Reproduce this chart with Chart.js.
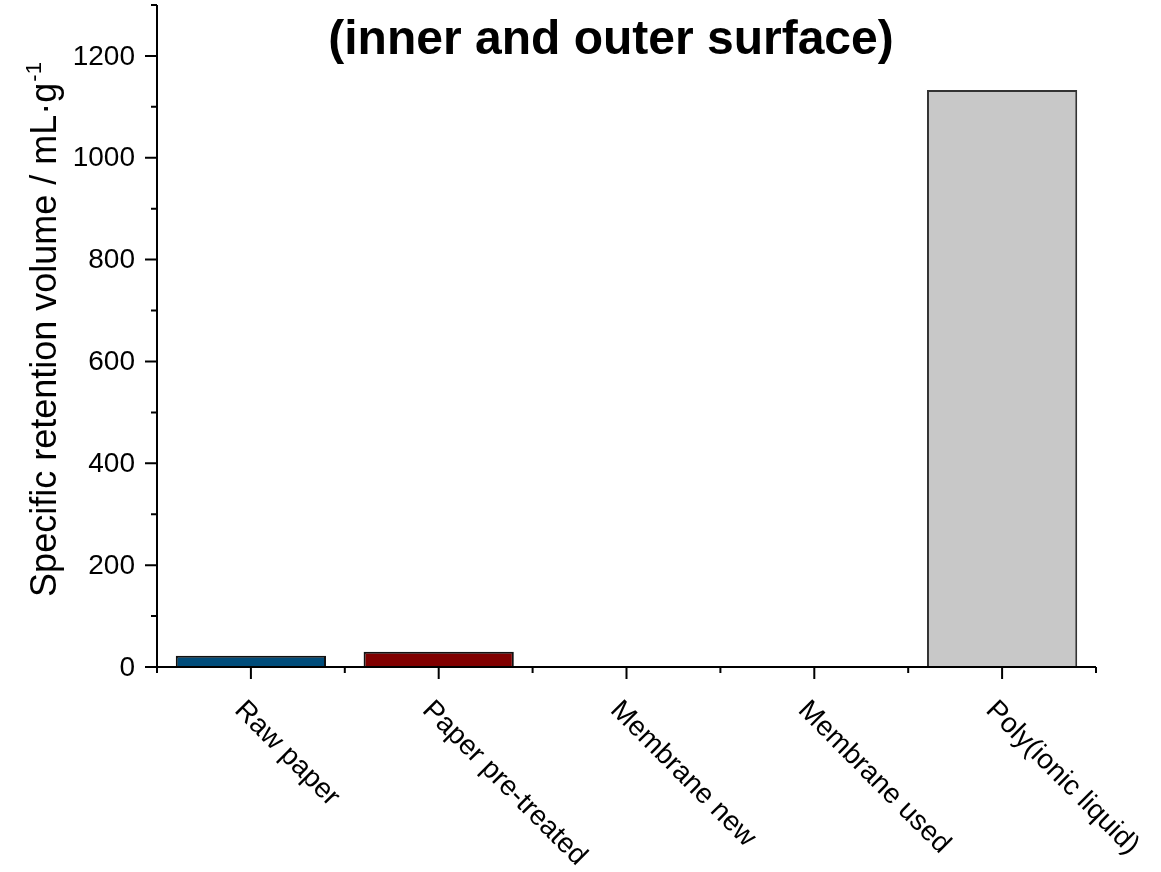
<!DOCTYPE html>
<html>
<head>
<meta charset="utf-8">
<title>Specific retention volume</title>
<script src="https://cdn.jsdelivr.net/npm/chart.js@4.4.1/dist/chart.umd.min.js"></script>
<style>
  html, body { margin: 0; padding: 0; background: #ffffff; }
  #wrap { width: 1161px; height: 872px; }
</style>
</head>
<body>
<div id="wrap"><canvas id="c" width="1161" height="872"></canvas></div>
<script>
// Samples and their specific retention volume (mL/g)
const categories = ['Raw paper', 'Paper pre-treated', 'Membrane new', 'Membrane used', 'Poly(ionic liquid)'];
const retentionVolume = [22, 30, 1.5, 1.5, 1133];
const barFill = ['#004c7a', '#800000', '#1e4a2a', '#7a5200', '#c8c8c8'];
const barEdge = ['#111111', '#111111', '#173a20', '#5a3c00', '#333333'];
const yMajorTicks = [0, 200, 400, 600, 800, 1000, 1200];

const titleText = '(inner and outer surface)';
const yTitleMain = 'Specific retention volume / mL\u00b7g';
const yTitleSup = '-1';

const FONT = "'Liberation Sans', Arial, Helvetica, sans-serif";

// Axis lines, tick marks and all axis texts, positioned through the scales
const axesPlugin = {
  id: 'axesTicks',
  afterDraw(chart) {
    const ctx = chart.ctx;
    const xs = chart.scales.x, ys = chart.scales.y;
    const a = chart.chartArea;
    ctx.save();
    ctx.strokeStyle = '#000';
    ctx.lineWidth = 2;
    ctx.lineCap = 'butt';
    ctx.beginPath();
    ctx.moveTo(a.left, a.top);
    ctx.lineTo(a.left, a.bottom);
    ctx.moveTo(a.left - 1, a.bottom);
    ctx.lineTo(a.right, a.bottom);
    // y ticks: major every 200, minor every 100
    for (let v = ys.min; v <= ys.max; v += 100) {
      const py = ys.getPixelForValue(v);
      const len = (v % 200 === 0) ? 12 : 6;
      ctx.moveTo(a.left, py);
      ctx.lineTo(a.left - len, py);
    }
    // x ticks: major at categories, minor at category boundaries
    const n = categories.length;
    for (let i = 0; i < n; i++) {
      const px = xs.getPixelForValue(i);
      ctx.moveTo(px, a.bottom);
      ctx.lineTo(px, a.bottom + 12);
    }
    for (let i = 0; i <= n; i++) {
      let px;
      if (i === 0) px = a.left;
      else if (i === n) px = a.right;
      else px = (xs.getPixelForValue(i - 1) + xs.getPixelForValue(i)) / 2;
      ctx.moveTo(px, a.bottom);
      ctx.lineTo(px, a.bottom + 6);
    }
    ctx.stroke();

    ctx.fillStyle = '#000';

    // y tick labels
    ctx.font = '28px ' + FONT;
    ctx.textAlign = 'right';
    ctx.textBaseline = 'middle';
    yMajorTicks.forEach(v => {
      ctx.fillText(String(v), a.left - 22, ys.getPixelForValue(v) + 1);
    });

    // rotated category labels
    ctx.font = '28px ' + FONT;
    ctx.textAlign = 'left';
    ctx.textBaseline = 'top';
    for (let i = 0; i < n; i++) {
      const px = xs.getPixelForValue(i);
      ctx.save();
      ctx.translate(px - 2, a.bottom + 29);
      ctx.rotate(Math.PI / 4);
      ctx.fillText(categories[i], 0, 0);
      ctx.restore();
    }

    // y axis title with superscript
    ctx.save();
    ctx.translate(43, 330);
    ctx.rotate(-Math.PI / 2);
    ctx.font = '36px ' + FONT;
    const wMain = ctx.measureText(yTitleMain).width;
    ctx.font = '22px ' + FONT;
    const wSup = ctx.measureText(yTitleSup).width;
    const start = -(wMain + wSup) / 2;
    ctx.textAlign = 'left';
    ctx.textBaseline = 'alphabetic';
    ctx.font = '36px ' + FONT;
    ctx.fillText(yTitleMain, start, 13);
    ctx.font = '22px ' + FONT;
    ctx.fillText(yTitleSup, start + wMain + 1, -2);
    ctx.restore();

    // chart heading
    ctx.font = 'bold 48px ' + FONT;
    ctx.textAlign = 'center';
    ctx.textBaseline = 'alphabetic';
    ctx.fillText(titleText, 611, 54);
    ctx.restore();
  }
};

new Chart(document.getElementById('c'), {
  type: 'bar',
  data: {
    labels: categories,
    datasets: [{
      data: retentionVolume,
      backgroundColor: barFill,
      borderColor: barEdge,
      borderWidth: 2,
      borderSkipped: 'bottom',
      barPercentage: 0.8,
      categoryPercentage: 1.0
    }]
  },
  options: {
    responsive: false,
    animation: false,
    devicePixelRatio: 1,
    layout: { padding: { top: 5, right: 65, left: 0, bottom: 0 } },
    plugins: {
      legend: { display: false },
      title: { display: false },
      tooltip: { enabled: false }
    },
    scales: {
      x: {
        type: 'category',
        offset: true,
        grid: { display: false, drawTicks: false },
        border: { display: false },
        ticks: { display: false },
        afterFit(s) { s.height = 205; }
      },
      y: {
        min: 0,
        max: 1300,
        grid: { display: false, drawTicks: false },
        border: { display: false },
        ticks: { display: false, stepSize: 100 },
        afterFit(s) { s.width = 157; }
      }
    }
  },
  plugins: [axesPlugin]
});
</script>
</body>
</html>
